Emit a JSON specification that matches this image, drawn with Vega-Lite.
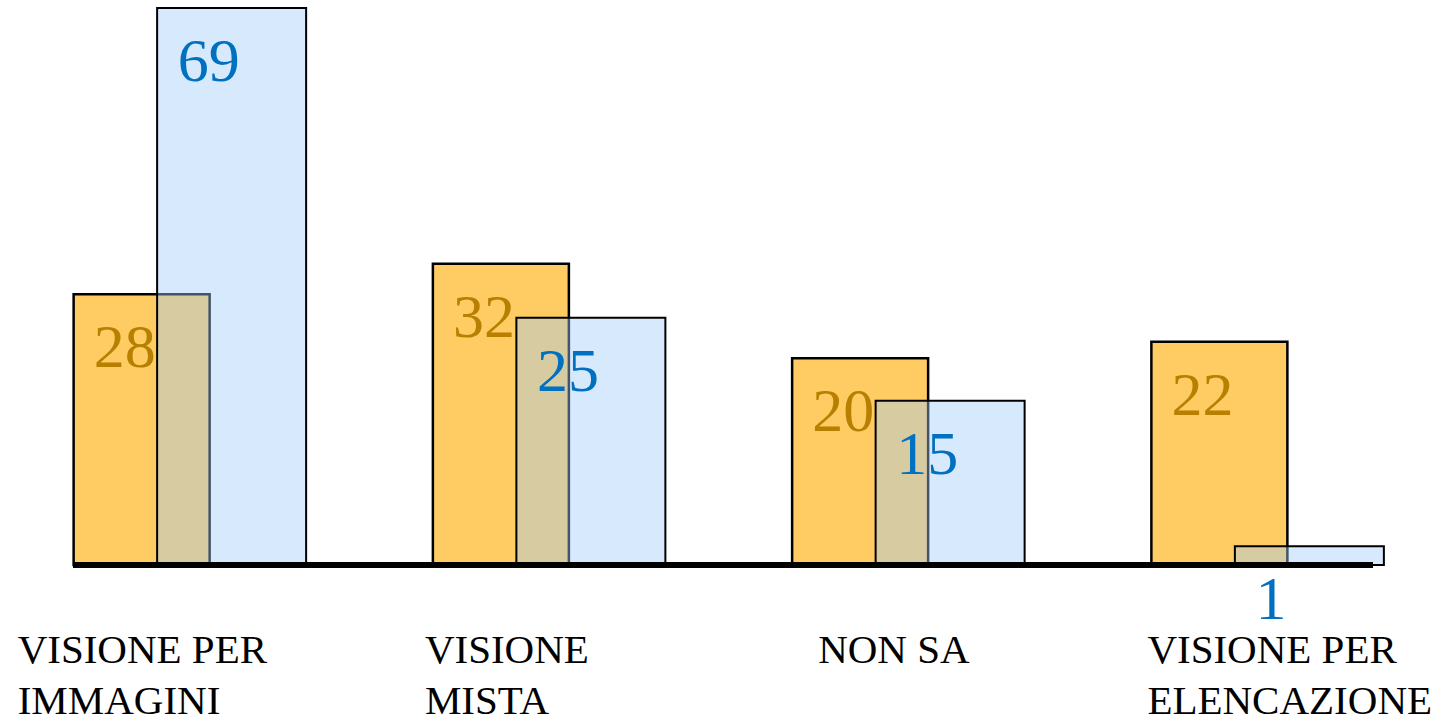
{
  "$schema": "https://vega.github.io/schema/vega-lite/v6.json",
  "width": 1437,
  "height": 557,
  "autosize": {"type": "none"},
  "padding": {"left": 12, "top": 8, "right": 1, "bottom": 157},
  "background": "white",
  "config": {"view": {"stroke": null}, "font": "Liberation Serif"},
  "data": {
    "values": [
      {"categoria": "VISIONE PER\nIMMAGINI", "serie": "A", "valore": 28},
      {"categoria": "VISIONE\nMISTA", "serie": "A", "valore": 32},
      {"categoria": "NON SA", "serie": "A", "valore": 20},
      {"categoria": "VISIONE PER\nELENCAZIONE", "serie": "A", "valore": 22},
      {"categoria": "VISIONE PER\nIMMAGINI", "serie": "B", "valore": 69},
      {"categoria": "VISIONE\nMISTA", "serie": "B", "valore": 25},
      {"categoria": "NON SA", "serie": "B", "valore": 15},
      {"categoria": "VISIONE PER\nELENCAZIONE", "serie": "B", "valore": 1}
    ]
  },
  "layer": [
    {
      "transform": [{"filter": "datum.serie == 'A'"}],
      "mark": {"type": "bar", "width": 136, "xOffset": -50, "fill": "#ffcb63", "stroke": "black", "strokeWidth": 2.5},
      "encoding": {
        "x": {"field": "categoria", "type": "nominal", "sort": null, "scale": {"paddingInner": 0, "paddingOuter": 0},
          "axis": {"title": null, "domain": false, "ticks": false, "tickSize": 0, "labelAngle": 0, "labelAlign": "left", "labelBaseline": "top",
            "labelOffset": {"condition": [
              {"test": "datum.value == 'VISIONE PER\\nIMMAGINI'", "value": -174},
              {"test": "datum.value == 'VISIONE\\nMISTA'", "value": -126},
              {"test": "datum.value == 'NON SA'", "value": -92}
            ], "value": -122},
            "labelPadding": 65, "labelFont": "Liberation Serif", "labelFontSize": 41, "labelColor": "black", "labelLineHeight": 51, "labelExpr": "split(datum.label, '\\n')", "labelLimit": 0, "labelOverlap": false}},
        "y": {"field": "valore", "type": "quantitative", "scale": {"type": "pow", "exponent": 0.8, "domain": [0, 69], "nice": false}, "axis": null}
      }
    },
    {
      "transform": [{"filter": "datum.serie == 'A'"}],
      "mark": {"type": "text", "align": "left", "baseline": "alphabetic", "xOffset": -98, "dy": 73, "font": "Liberation Serif", "fontSize": 62, "color": "#b88000"},
      "encoding": {
        "x": {"field": "categoria", "type": "nominal", "sort": null},
        "y": {"field": "valore", "type": "quantitative"},
        "text": {"field": "valore", "type": "quantitative"}
      }
    },
    {
      "transform": [{"filter": "datum.serie == 'B'"}],
      "mark": {"type": "bar", "width": 149, "xOffset": 40, "fill": "#a0cafa", "fillOpacity": 0.42, "stroke": "black", "strokeWidth": 2},
      "encoding": {
        "x": {"field": "categoria", "type": "nominal", "sort": null},
        "y": {"field": "valore", "type": "quantitative"}
      }
    },
    {
      "transform": [{"filter": "datum.serie == 'B'"}],
      "mark": {"type": "text", "align": "left", "baseline": "alphabetic", "xOffset": -14, "dy": 73, "font": "Liberation Serif", "fontSize": 62, "color": "#0070c0"},
      "encoding": {
        "x": {"field": "categoria", "type": "nominal", "sort": null},
        "y": {"field": "valore", "type": "quantitative"},
        "text": {"field": "valore", "type": "quantitative"}
      }
    },
    {
      "mark": {"type": "rule", "color": "black", "strokeWidth": 5},
      "encoding": {
        "x": {"datum": "VISIONE PER\nIMMAGINI", "type": "nominal", "bandPosition": 0.17},
        "x2": {"datum": "VISIONE PER\nELENCAZIONE", "bandPosition": 0.788},
        "y": {"datum": 0, "type": "quantitative"}
      }
    }
  ]
}
